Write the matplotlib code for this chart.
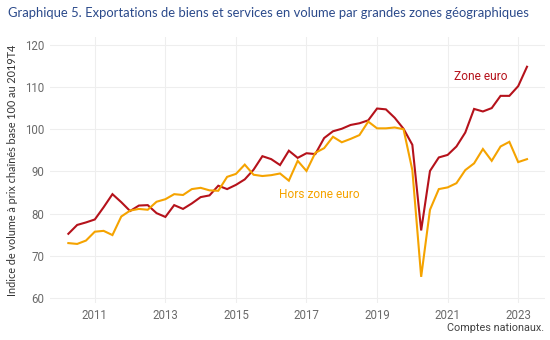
import pandas as pd
import matplotlib.pyplot as plt

# quarterly indices, 2010Q2 -> 2023Q2 (base 100 = 2019T4)
quarters = pd.period_range('2010Q2', '2023Q2', freq='Q')
zone_euro = [75.2, 77.3, 77.9, 78.6, 81.5, 84.6, 82.7, 80.6, 81.9, 82.0,
             80.1, 79.2, 82.0, 81.1, 82.4, 83.9, 84.3, 86.6, 85.8, 86.8,
             88.1, 90.4, 93.6, 92.9, 91.5, 94.9, 93.2, 94.3, 94.1, 97.9,
             99.5, 100.1, 101.0, 101.4, 102.1, 104.9, 104.7, 102.7, 100.1, 96.3,
             76.0, 90.1, 93.3, 93.9, 95.9, 99.2, 104.8, 104.2, 105.0, 107.9,
             107.9, 110.2, 114.8]
hors_zone = [73.0, 72.8, 73.6, 75.7, 75.9, 74.9, 79.3, 80.7, 81.1, 80.9,
             82.8, 83.4, 84.6, 84.4, 85.8, 86.1, 85.5, 85.4, 88.7, 89.4,
             91.6, 89.2, 88.9, 89.1, 89.5, 87.8, 92.5, 90.1, 94.4, 95.5,
             98.2, 96.9, 97.7, 98.6, 101.8, 100.2, 100.2, 100.4, 100.0, 90.3,
             65.0, 80.9, 85.8, 86.2, 87.2, 90.3, 91.9, 95.3, 92.5, 95.9,
             97.0, 92.2, 92.9]
year_ticks = [2011, 2013, 2015, 2017, 2019, 2021, 2023]

x = [p.year + (p.quarter - 1) / 4 for p in quarters]

red = '#b5121b'
orange = '#f5a300'
plt.rcParams['font.family'] = ['Lato', 'DejaVu Sans']

fig = plt.figure(figsize=(5.5, 3.4), dpi=100)
ax = fig.add_axes([50 / 550, 1 - 303 / 340, 495 / 550, 266 / 340])

ax.plot(x, zone_euro, color=red, lw=1.5, solid_joinstyle='miter')
ax.plot(x, hors_zone, color=orange, lw=1.5, solid_joinstyle='miter')

ax.set_xlim(2009.73, 2023.76)
ax.set_ylim(58.8, 121.85)
ax.set_xticks(year_ticks)
ax.set_yticks([60, 70, 80, 90, 100, 110, 120])
ax.grid(True, color='#eeeeee', lw=0.8)
ax.set_axisbelow(True)
for s in ax.spines.values():
    s.set_visible(False)
ax.tick_params(length=0, labelsize=8.3, colors='#6a6a6a', pad=4)
for lab in ax.get_xticklabels() + ax.get_yticklabels():
    lab.set_family(['Roboto', 'DejaVu Sans'])

ax.set_ylabel('Indice de volume à prix chaînés base 100 au 2019T4',
              fontsize=7.8, color='#333333', labelpad=5)

ax.text(2021.95, 112.6, 'Zone euro', color=red, fontsize=8.6, ha='center', va='center',
        family=['Roboto', 'DejaVu Sans'])
ax.text(2017.35, 84.6, 'Hors zone euro', color=orange, fontsize=8.6, ha='center', va='center',
        family=['Roboto', 'DejaVu Sans'])

fig.text(8 / 550, 1 - 13 / 340, 'Graphique 5. Exportations de biens et services en volume par grandes zones géographiques',
         fontsize=9.4, color='#2b4a8b', ha='left', va='center')
fig.text(544 / 550, 1 - 328 / 340, 'Comptes nationaux.', fontsize=7.8, color='#444444',
         ha='right', va='center', family=['Roboto', 'DejaVu Sans'])

fig.savefig('out.png', dpi=100)
